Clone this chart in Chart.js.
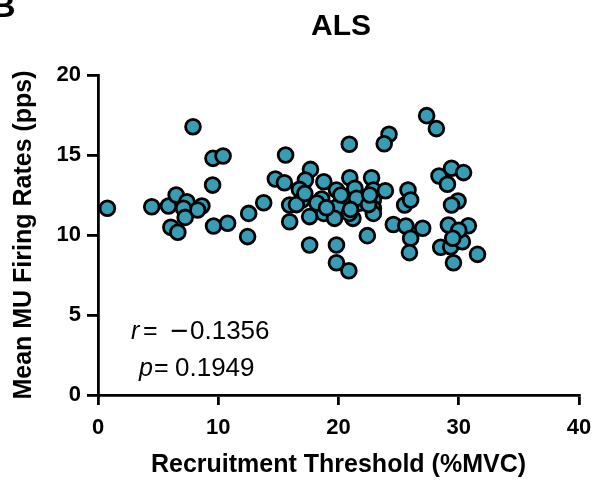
<!DOCTYPE html>
<html><head><meta charset="utf-8">
<script src="https://cdn.jsdelivr.net/npm/chart.js@4.4.1/dist/chart.umd.min.js"></script>
<style>html,body{margin:0;padding:0;background:#fff}canvas{display:block}</style>
</head><body>
<canvas id="c" width="595" height="481"></canvas>
<script>
const thresholdX = [0.78,4.47,5.86,6.5,7.39,8.64,8.28,7.11,7.25,6.06,6.64,7.9,9.56,10.4,9.53,9.61,10.78,12.53,12.44,13.78,
14.75,15.5,15.6,17.67,17.25,18.78,20.94,22.75,16.75,19.83,21.36,22.9,23.9,25.78,15.94,18.6,16.97,20.44,21.7,22.9,
19.9,22.9,25.5,15.94,17.6,18.78,19.67,21.2,20.9,22.9,24.56,25.6,27.0,22.4,17.6,19.83,26.0,25.9,19.83,20.86,
24.2,23.8,20.9,27.33,28.14,29.4,30.4,28.36,29.06,26.0,29.94,29.4,29.14,30.8,28.5,29.33,30.3,31.56,29.56,
16.5,18.2,20.2,21.5,22.5,19.0,17.2,21.0,22.6,30.0,29.5];
const firingY = [11.67,11.77,11.81,12.5,12.08,11.81,11.56,11.67,11.1,10.48,10.17,16.77,14.79,14.94,13.12,10.56,10.73,11.35,9.9,12.02,
13.5,13.27,15.0,14.1,13.44,13.33,13.58,13.58,12.85,12.81,12.92,12.81,12.77,12.81,11.875,12.25,12.19,12.19,11.98,12.19,
11.77,11.67,11.875,10.83,11.15,11.35,11.04,11.04,11.35,11.35,10.66,10.56,10.42,9.96,9.375,9.375,9.8,8.9,8.27,7.77,
16.3,15.7,15.67,17.46,16.65,14.17,13.9,13.69,13.17,12.19,12.125,11.875,10.625,10.58,9.23,9.27,9.58,8.79,8.27,
11.9,12.0,12.5,12.3,11.9,11.7,12.6,11.6,12.5,10.3,9.8];
const xTicks = [0,10,20,30,40];
const yTicks = [0,5,10,15,20];
const chartTitle = 'ALS';
const xTitle = 'Recruitment Threshold (%MVC)';
const yTitle = 'Mean MU Firing Rates (pps)';
const statRSym = 'r', statRVal = '0.1356', statRSign = '\u2212';
const statPSym = 'p', statPVal = '0.1949';
const panelLetter = 'B';

const points = thresholdX.map((x,i)=>({x:x,y:firingY[i]}));
const FONT = '"Liberation Sans", Arial, sans-serif';

const overlay = {
  id:'overlay',
  afterDraw(chart){
    const ctx = chart.ctx;
    ctx.save();
    ctx.fillStyle = '#000';
    ctx.textBaseline = 'alphabetic';
    // panel letter
    ctx.font = 'bold 34px ' + FONT;
    ctx.textAlign = 'left';
    ctx.fillText(panelLetter, -9, 17);
    // title
    ctx.font = 'bold 30px ' + FONT;
    ctx.textAlign = 'center';
    ctx.fillText(chartTitle, 341, 35);
    // stats
    ctx.textAlign = 'left';
    ctx.font = 'italic 25px ' + FONT;
    ctx.fillText(statRSym, 131, 339);
    ctx.fillText(statPSym, 139, 376);
    ctx.font = '25px ' + FONT;
    ctx.fillText('=', 143, 339);
    ctx.fillText('=', 154, 376);
    ctx.save();
    ctx.font = '31px ' + FONT;
    ctx.fillText(statRSign, 170, 341);
    ctx.restore();
    ctx.font = '26px ' + FONT;
    ctx.fillText(statRVal, 190, 339);
    ctx.fillText(statPVal, 175, 376);
    ctx.restore();
  }
};

new Chart(document.getElementById('c'), {
  type:'scatter',
  data:{datasets:[{
    data: points,
    backgroundColor:'#379DB6',
    borderColor:'#000',
    borderWidth:2.8,
    pointRadius:7.4,
    pointHoverRadius:7.4,
    clip:false
  }]},
  options:{
    responsive:false,
    animation:false,
    events:[],
    layout:{padding:{left:0,right:16,top:75,bottom:0}},
    plugins:{legend:{display:false},tooltip:{enabled:false},title:{display:false}},
    scales:{
      x:{
        type:'linear', min:0, max:40,
        afterBuildTicks(s){ s.ticks = xTicks.map(v=>({value:v})); },
        afterFit(s){ s.height = 86; s.paddingLeft = 0; s.paddingRight = 0; },
        grid:{drawOnChartArea:false, drawTicks:true, tickLength:10, color:'#000', lineWidth:2.8},
        border:{display:true, color:'#000', width:2.8},
        ticks:{color:'#000', font:{family:FONT, size:22, weight:'bold'}, padding:10, maxRotation:0},
        title:{display:true, text:xTitle, color:'#000', font:{family:FONT, size:25, weight:'bold'}, padding:{top:0,bottom:1}}
      },
      y:{
        type:'linear', min:0, max:20,
        afterBuildTicks(s){ s.ticks = yTicks.map(v=>({value:v})); },
        afterFit(s){ s.width = 98; s.paddingTop = 0; s.paddingBottom = 0; },
        grid:{drawOnChartArea:false, drawTicks:true, tickLength:11, color:'#000', lineWidth:2.8},
        border:{display:true, color:'#000', width:2.8},
        ticks:{color:'#000', font:{family:FONT, size:22, weight:'bold'}, padding:6},
        title:{display:true, text:yTitle, color:'#000', font:{family:FONT, size:25, weight:'bold'}, padding:{top:9,bottom:0}}
      }
    }
  },
  plugins:[overlay]
});
</script>
</body></html>
